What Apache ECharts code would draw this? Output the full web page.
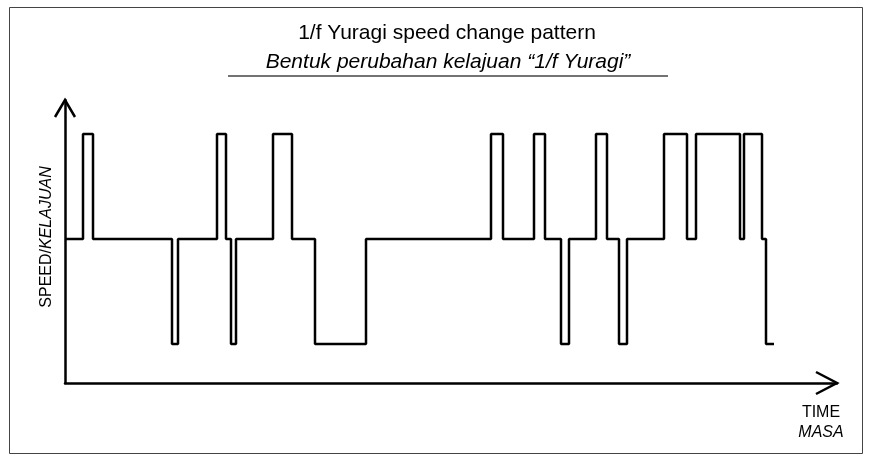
<!DOCTYPE html>
<html><head><meta charset="utf-8">
<script src="https://cdn.jsdelivr.net/npm/echarts@6/dist/echarts.min.js"></script>
<style>html,body{margin:0;padding:0;background:#fff}#c{width:871px;height:463px}</style>
</head><body><div id="c"></div>
<script>
// switch times (arbitrary time units) and speed level held from each time (1=low,2=normal,3=high)
var times = [0, 18, 28, 107, 113, 152, 161, 166, 171, 208, 227, 250, 301, 426, 438, 469, 480, 496, 504, 531, 542, 554, 562, 599, 622, 631, 675, 679, 697, 701, 709];
var levels = [2, 3, 2, 1, 2, 3, 2, 1, 2, 3, 2, 1, 2, 3, 2, 3, 2, 1, 2, 3, 2, 1, 2, 3, 2, 3, 2, 3, 2, 1, 1];
var titleText = '1/f Yuragi speed change pattern';
var subtitleText = 'Bentuk perubahan kelajuan \u201c1/f Yuragi\u201d';
var yName = ['SPEED/', 'KELAJUAN'];
var xName = ['TIME', 'MASA'];

var chart = echarts.init(document.getElementById('c'), null, {renderer: 'canvas'});
var FONT = '"Liberation Sans", Arial, sans-serif';
var data = times.map(function (t, i) { return [t, levels[i]]; });
var xMax = 772, yMin = 0.629, yMax = 3.324;

chart.setOption({
  animation: false,
  backgroundColor: '#fff',
  grid: {left: 65, right: 34, top: 100, bottom: 80},
  xAxis: {
    type: 'value', min: 0, max: xMax,
    axisLine: {show: true, lineStyle: {color: '#000', width: 2.5}},
    axisTick: {show: false}, axisLabel: {show: false}, splitLine: {show: false}
  },
  yAxis: {
    type: 'value', min: yMin, max: yMax,
    axisLine: {show: true, onZero: false, lineStyle: {color: '#000', width: 2.5}},
    axisTick: {show: false}, axisLabel: {show: false}, splitLine: {show: false}
  },
  series: [{
    type: 'line', step: 'end', data: data, symbol: 'none', clip: false,
    lineStyle: {color: '#000', width: 2.5}
  }]
});

var yTop = chart.convertToPixel({gridIndex: 0}, [0, yMax]);
var xEnd = chart.convertToPixel({gridIndex: 0}, [xMax, yMin]);
chart.setOption({
  graphic: [
    {type: 'rect', shape: {x: 9.5, y: 7.5, width: 853, height: 446}, style: {fill: null, stroke: '#444', lineWidth: 1}, silent: true},
    {type: 'text', x: 447, y: 33, style: {text: titleText, font: '21px ' + FONT, fill: '#000', align: 'center', verticalAlign: 'middle'}},
    {type: 'text', x: 448, y: 62, style: {text: subtitleText, font: 'italic 21px ' + FONT, fill: '#000', align: 'center', verticalAlign: 'middle'}},
    {type: 'line', shape: {x1: 228, y1: 76, x2: 668, y2: 76}, style: {stroke: '#444', lineWidth: 1.5}},
    {type: 'polyline', shape: {points: [[yTop[0] - 10, yTop[1] + 17], [yTop[0], yTop[1]], [yTop[0] + 10, yTop[1] + 17]]}, style: {stroke: '#000', lineWidth: 2.5, fill: null}},
    {type: 'polyline', shape: {points: [[xEnd[0] - 21, xEnd[1] - 11], [xEnd[0], xEnd[1]], [xEnd[0] - 21, xEnd[1] + 11]]}, style: {stroke: '#000', lineWidth: 2.5, fill: null}},
    {type: 'text', x: 47, y: 237, rotation: Math.PI / 2, style: {
      text: '{a|' + yName[0] + '}{b|' + yName[1] + '}', align: 'center', verticalAlign: 'middle',
      rich: {
        a: {fontFamily: FONT, fontSize: 16, fill: '#000'},
        b: {fontFamily: FONT, fontSize: 16, fontStyle: 'italic', fill: '#000'}
      }
    }},
    {type: 'text', x: 821, y: 412.5, style: {text: xName[0], font: '16px ' + FONT, fill: '#000', align: 'center', verticalAlign: 'middle'}},
    {type: 'text', x: 821, y: 432.5, style: {text: xName[1], font: 'italic 16px ' + FONT, fill: '#000', align: 'center', verticalAlign: 'middle'}}
  ]
});
</script>
</body></html>
